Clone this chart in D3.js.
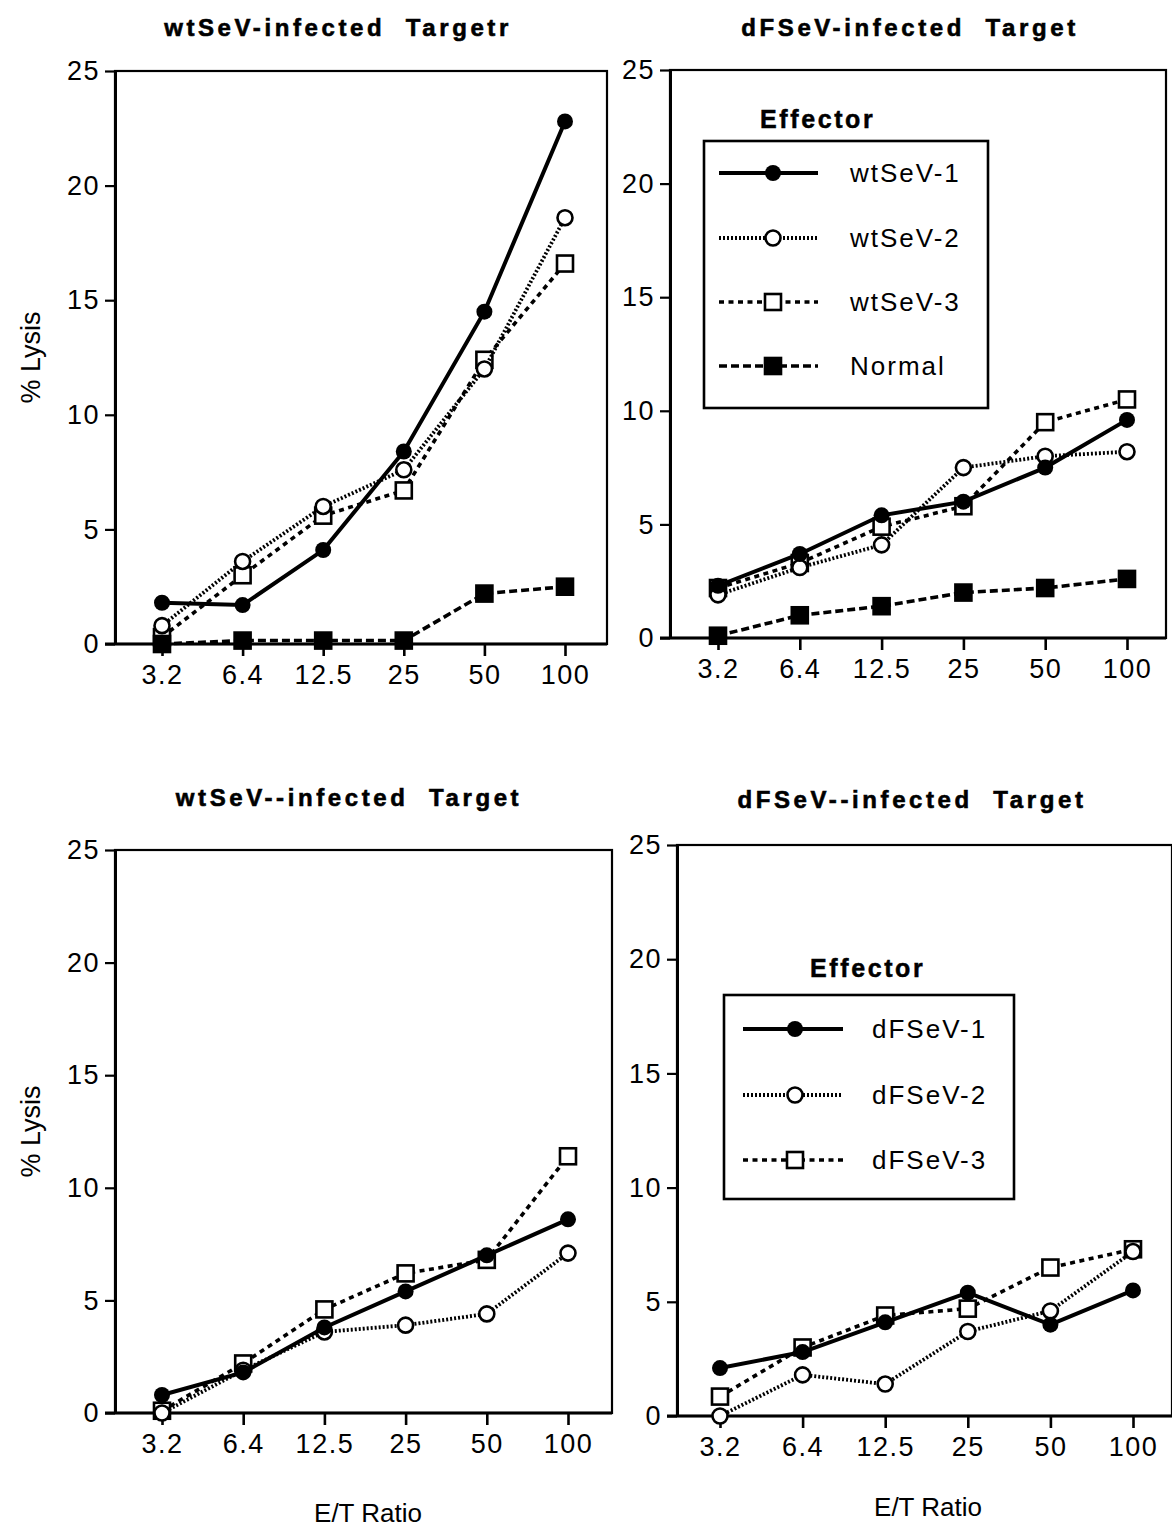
<!DOCTYPE html>
<html>
<head>
<meta charset="utf-8">
<script src="https://cdn.jsdelivr.net/npm/d3@7"></script>
<style>
  body { margin: 0; background: #fff; }
  text { font-family: "Liberation Sans", Arial, sans-serif; fill: #000; }
</style>
</head>
<body>
<div id="my_dataviz"></div>
<script>
    // data (% lysis at each E/T ratio)
    const ratios = ["3.2", "6.4", "12.5", "25", "50", "100"];
    const yTicks = [0, 5, 10, 15, 20, 25];

    // wtSeV-infected target, wt effectors
    const wtTargetWt1 = [1.8, 1.7, 4.1, 8.4, 14.5, 22.8];
    const wtTargetWt2 = [0.8, 3.6, 6.0, 7.6, 12.0, 18.6];
    const wtTargetWt3 = [0.3, 3.0, 5.6, 6.7, 12.4, 16.6];
    const wtTargetNormal = [0.0, 0.15, 0.15, 0.15, 2.2, 2.5];

    // dFSeV-infected target, wt effectors
    const dfTargetWt1 = [2.3, 3.7, 5.4, 6.0, 7.5, 9.6];
    const dfTargetWt2 = [1.9, 3.1, 4.1, 7.5, 8.0, 8.2];
    const dfTargetWt3 = [2.2, 3.3, 4.9, 5.8, 9.5, 10.5];
    const dfTargetNormal = [0.1, 1.0, 1.4, 2.0, 2.2, 2.6];

    // wtSeV-infected target, dF effectors
    const wtTargetDf1 = [0.8, 1.8, 3.8, 5.4, 7.0, 8.6];
    const wtTargetDf2 = [0.0, 1.9, 3.6, 3.9, 4.4, 7.1];
    const wtTargetDf3 = [0.1, 2.2, 4.6, 6.2, 6.8, 11.4];

    // dFSeV-infected target, dF effectors
    const dfTargetDf1 = [2.1, 2.8, 4.1, 5.4, 4.0, 5.5];
    const dfTargetDf2 = [0.0, 1.8, 1.4, 3.7, 4.6, 7.2];
    const dfTargetDf3 = [0.85, 3.0, 4.4, 4.7, 6.5, 7.3];

    const wtNames = ["wtSeV-1", "wtSeV-2", "wtSeV-3", "Normal"];
    const dfNames = ["dFSeV-1", "dFSeV-2", "dFSeV-3"];
</script>
<script>
    // styles for each kind of series
    const styles = {
        s1: {dash: null, width: 4, marker: "dot"},
        s2: {dash: "2,2", width: 3.8, marker: "ring"},
        s3: {dash: "5,4.5", width: 3.6, marker: "box"},
        normal: {dash: "8,4", width: 3.6, marker: "block"}
    };

    const panels = [
        {title: "wtSeV-infected  Targetr", tx: 338, ty: 36,
         left: 115, right: 607, top: 71, bottom: 644, padL: 47, padR: 42, ylabel: true,
         series: [
            {v: wtTargetWt3, s: "s3"}, {v: wtTargetWt2, s: "s2"},
            {v: wtTargetWt1, s: "s1"}, {v: wtTargetNormal, s: "normal"}]},
        {title: "dFSeV-infected  Target", tx: 910, ty: 36,
         left: 670, right: 1166, top: 70, bottom: 638, padL: 48, padR: 39,
         series: [
            {v: dfTargetWt3, s: "s3"}, {v: dfTargetWt2, s: "s2"},
            {v: dfTargetWt1, s: "s1"}, {v: dfTargetNormal, s: "normal"}],
         legend: {names: wtNames, kinds: ["s1", "s2", "s3", "normal"], hx: 760, hy: 128,
                  x0: 704, x1: 988, y0: 141, y1: 408, rows: [173, 238, 302, 366],
                  l0: 719, l1: 818, m: 773, t: 850}},
        {title: "wtSeV--infected  Target", tx: 349, ty: 806,
         left: 115, right: 612, top: 850, bottom: 1413, padL: 47, padR: 44, ylabel: true, xlabel: {x: 368, y: 1522},
         series: [
            {v: wtTargetDf3, s: "s3"}, {v: wtTargetDf2, s: "s2"}, {v: wtTargetDf1, s: "s1"}]},
        {title: "dFSeV--infected  Target", tx: 912, ty: 808,
         left: 677, right: 1172, top: 845, bottom: 1416, padL: 43, padR: 39, xlabel: {x: 928, y: 1516},
         series: [
            {v: dfTargetDf3, s: "s3"}, {v: dfTargetDf2, s: "s2"}, {v: dfTargetDf1, s: "s1"}],
         legend: {names: dfNames, kinds: ["s1", "s2", "s3"], hx: 810, hy: 977,
                  x0: 724, x1: 1014, y0: 995, y1: 1199, rows: [1029, 1095, 1160],
                  l0: 743, l1: 843, m: 795, t: 872}}
    ];

    const svg = d3.select("#my_dataviz")
        .append("svg")
        .attr("width", 1172)
        .attr("height", 1529);

    function drawMarker(g, kind, cx, cy) {
        if (kind === "dot") {
            g.append("circle").attr("cx", cx).attr("cy", cy).attr("r", 8).attr("fill", "#000");
        } else if (kind === "ring") {
            g.append("circle").attr("cx", cx).attr("cy", cy).attr("r", 7.5)
                .attr("fill", "#fff").attr("stroke", "#000").attr("stroke-width", 2.6);
        } else {
            g.append("rect").attr("x", cx - 8).attr("y", cy - 8).attr("width", 16).attr("height", 16)
                .attr("fill", kind === "block" ? "#000" : "#fff")
                .attr("stroke", "#000").attr("stroke-width", 2.6);
        }
    }

    panels.forEach(function (p) {
        const g = svg.append("g");

        const x = d3.scalePoint()
            .domain(ratios)
            .range([p.left + p.padL, p.right - p.padR]);
        const y = d3.scaleLinear()
            .domain([0, 25])
            .range([p.bottom, p.top]);

        // frame
        g.append("rect")
            .attr("x", p.left).attr("y", p.top)
            .attr("width", p.right - p.left).attr("height", p.bottom - p.top)
            .attr("fill", "none").attr("stroke", "#000").attr("stroke-width", 2.2);

        // Y axis
        const ya = g.append("g")
            .attr("transform", "translate(" + p.left + ",0)")
            .call(d3.axisLeft(y).tickValues(yTicks).tickSize(10).tickSizeOuter(0).tickPadding(5));
        ya.select(".domain").attr("stroke-width", 3);
        ya.selectAll(".tick line").attr("stroke-width", 2.2);
        ya.selectAll("text").attr("font-size", 27).attr("letter-spacing", 1.5)
            .style("font-family", "Liberation Sans, Arial, sans-serif");

        // X axis
        const xa = g.append("g")
            .attr("transform", "translate(0," + p.bottom + ")")
            .call(d3.axisBottom(x).tickSize(12).tickSizeOuter(0).tickPadding(9));
        xa.select(".domain").remove();
        xa.selectAll(".tick line").attr("stroke-width", 2.6);
        xa.selectAll("text").attr("font-size", 27).attr("letter-spacing", 1.5)
            .style("font-family", "Liberation Sans, Arial, sans-serif");
        g.append("line")
            .attr("x1", p.left - 10).attr("x2", p.right)
            .attr("y1", p.bottom).attr("y2", p.bottom)
            .attr("stroke", "#000").attr("stroke-width", 3);

        // title
        g.append("text")
            .attr("x", p.tx).attr("y", p.ty)
            .attr("text-anchor", "middle")
            .attr("font-size", 24).attr("font-weight", "bold")
            .attr("letter-spacing", 3.6)
            .attr("stroke", "#000").attr("stroke-width", 0.6)
            .style("white-space", "pre")
            .text(p.title);

        if (p.ylabel) {
            g.append("text")
                .attr("transform", "translate(40," + ((p.top + p.bottom) / 2) + ") rotate(-90)")
                .attr("text-anchor", "middle")
                .attr("font-size", 27)
                .text("% Lysis");
        }
        if (p.xlabel) {
            g.append("text")
                .attr("x", p.xlabel.x).attr("y", p.xlabel.y)
                .attr("text-anchor", "middle")
                .attr("font-size", 26)
                .text("E/T Ratio");
        }

        // series
        const line = d3.line()
            .x(function (d, i) { return x(ratios[i]); })
            .y(function (d) { return y(d); });

        p.series.forEach(function (s) {
            const st = styles[s.s];
            g.append("path")
                .datum(s.v)
                .attr("d", line)
                .attr("fill", "none")
                .attr("stroke", "#000")
                .attr("stroke-width", st.width)
                .attr("stroke-dasharray", st.dash);
            s.v.forEach(function (d, i) {
                drawMarker(g, st.marker, x(ratios[i]), y(d));
            });
        });

        // legend
        if (p.legend) {
            const L = p.legend;
            g.append("text")
                .attr("x", L.hx).attr("y", L.hy)
                .attr("font-size", 25).attr("font-weight", "bold")
                .attr("letter-spacing", 2.6)
                .attr("stroke", "#000").attr("stroke-width", 0.5)
                .text("Effector");
            g.append("rect")
                .attr("x", L.x0).attr("y", L.y0)
                .attr("width", L.x1 - L.x0).attr("height", L.y1 - L.y0)
                .attr("fill", "#fff").attr("stroke", "#000").attr("stroke-width", 2.6);
            L.names.forEach(function (name, i) {
                const st = styles[L.kinds[i]];
                const yy = L.rows[i];
                g.append("line")
                    .attr("x1", L.l0).attr("x2", L.l1)
                    .attr("y1", yy).attr("y2", yy)
                    .attr("stroke", "#000")
                    .attr("stroke-width", st.width)
                    .attr("stroke-dasharray", st.dash);
                drawMarker(g, st.marker, L.m, yy);
                g.append("text")
                    .attr("x", L.t).attr("y", yy + 9)
                    .attr("font-size", 26).attr("letter-spacing", 2)
                    .text(name);
            });
        }
    });
</script>
</body>
</html>
